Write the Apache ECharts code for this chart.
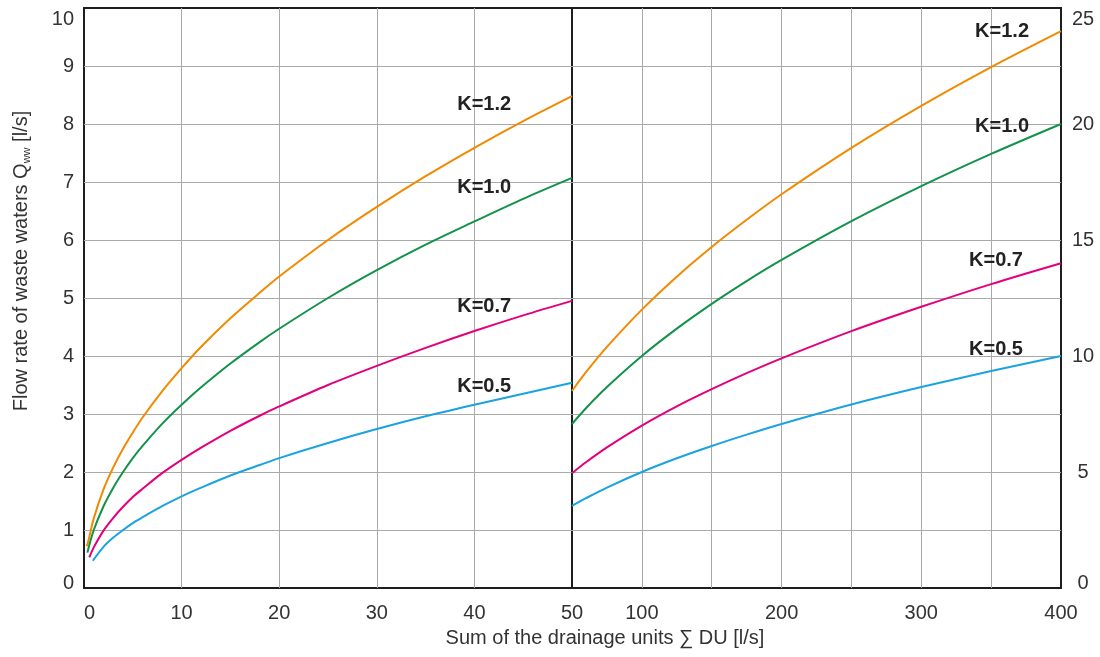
<!DOCTYPE html>
<html><head><meta charset="utf-8">
<script src="https://cdn.jsdelivr.net/npm/echarts@6/dist/echarts.min.js"></script>
<style>html,body{margin:0;padding:0;background:#fff}#c{width:1100px;height:657px}</style>
</head><body><div id="c"></div>
<script>
// ---------- data ----------
const kLabels = ['K=1.2', 'K=1.0', 'K=0.7', 'K=0.5'];

// left panel (DU 0..50, Q 0..10)
const leftDU_K12 = [0.3, 0.5, 1, 2, 3, 4, 5, 6, 8, 10, 12, 15, 18, 20, 25, 30, 35, 40, 45, 50];
const leftQ_K12  = [0.72, 0.85, 1.2, 1.7, 2.08, 2.4, 2.68, 2.94, 3.39, 3.79, 4.16, 4.65, 5.09, 5.37, 6.0, 6.57, 7.1, 7.59, 8.05, 8.48];
const leftDU_K10 = [0.35, 0.5, 1, 2, 3, 4, 5, 6, 8, 10, 12, 15, 18, 20, 25, 30, 35, 40, 45, 50];
const leftQ_K10  = [0.61, 0.71, 1.0, 1.41, 1.73, 2.0, 2.24, 2.45, 2.83, 3.16, 3.46, 3.87, 4.24, 4.47, 5.0, 5.48, 5.92, 6.32, 6.71, 7.07];
const leftDU_K07 = [0.55, 1, 2, 3, 4, 5, 6, 8, 10, 12, 15, 18, 20, 25, 30, 35, 40, 45, 50];
const leftQ_K07  = [0.53, 0.7, 0.99, 1.21, 1.4, 1.57, 1.71, 1.98, 2.21, 2.42, 2.71, 2.97, 3.13, 3.5, 3.83, 4.14, 4.43, 4.7, 4.95];
const leftDU_K05 = [0.9, 2, 3, 4, 5, 6, 8, 10, 12, 15, 18, 20, 25, 30, 35, 40, 45, 50];
const leftQ_K05  = [0.47, 0.71, 0.87, 1.0, 1.12, 1.22, 1.41, 1.58, 1.73, 1.94, 2.12, 2.24, 2.5, 2.74, 2.96, 3.16, 3.35, 3.54];

// right panel (DU 50..400, Q 0..25)
const rightDU = [50, 60, 75, 100, 125, 150, 175, 200, 250, 300, 350, 400];
const rightQ_K12 = [8.49, 9.3, 10.39, 12.0, 13.42, 14.7, 15.87, 16.97, 18.97, 20.78, 22.45, 24.0];
const rightQ_K10 = [7.07, 7.75, 8.66, 10.0, 11.18, 12.25, 13.23, 14.14, 15.81, 17.32, 18.71, 20.0];
const rightQ_K07 = [4.95, 5.42, 6.06, 7.0, 7.83, 8.57, 9.26, 9.9, 11.07, 12.12, 13.1, 14.0];
const rightQ_K05 = [3.54, 3.87, 4.33, 5.0, 5.59, 6.12, 6.61, 7.07, 7.91, 8.66, 9.35, 10.0];

// tick labels
const leftXTicks = [0, 10, 20, 30, 40, 50];
const rightXTicks = [100, 200, 300, 400];
const leftYTicks = [0, 1, 2, 3, 4, 5, 6, 7, 8, 9, 10];
const rightYTicks = [0, 5, 10, 15, 20, 25];

const xTitle = 'Sum of the drainage units \u2211 DU [l/s]';

// ---------- presentation ----------
const colors = ['#f18a00', '#12924a', '#e2007d', '#1aa3e0'];
// label anchors in data coordinates (left panel, right panel)
const leftLabelAt  = [[41, 8.33], [41, 6.91], [41, 4.86], [41, 3.48]];
const rightLabelAt = [[357.8, 24.0], [357.8, 19.9], [353.5, 14.1], [353.5, 10.3]];

const FONT = '"Liberation Sans", Arial, Helvetica, sans-serif';
const zip = (a, b) => a.map((v, i) => [v, b[i]]);

const leftSets = [zip(leftDU_K12, leftQ_K12), zip(leftDU_K10, leftQ_K10), zip(leftDU_K07, leftQ_K07), zip(leftDU_K05, leftQ_K05)];
const rightSets = [zip(rightDU, rightQ_K12), zip(rightDU, rightQ_K10), zip(rightDU, rightQ_K07), zip(rightDU, rightQ_K05)];

function mkSeries(data, i, gi, at) {
  return {
    type: 'line', xAxisIndex: gi, yAxisIndex: gi, data: data,
    showSymbol: false, symbol: 'none', smooth: 0.3,
    lineStyle: { color: colors[i], width: 2 }, itemStyle: { color: colors[i] },
    z: 5, silent: true,
    markPoint: {
      symbol: 'circle', symbolSize: 1, silent: true,
      itemStyle: { color: 'rgba(0,0,0,0)' },
      label: { show: true, position: 'inside', formatter: kLabels[i], fontFamily: FONT, fontSize: 20, fontWeight: 'bold', color: '#222' },
      data: [{ coord: at }]
    }
  };
}

const splitLine = { show: true, showMinLine: false, showMaxLine: false, lineStyle: { color: '#a9a9a9', width: 1 } };
const lbl = { fontFamily: FONT, fontSize: 20, color: '#333' };
const edgeRich = {
  lo: { fontFamily: FONT, fontSize: 20, color: '#333', padding: [0, 0, 10, 0] },
  hi: { fontFamily: FONT, fontSize: 20, color: '#333', padding: [22, 0, 0, 0] }
};
function yFmt(ticks, lo, hi) {
  return v => {
    if (!ticks.includes(v)) return '';
    if (v === lo) return '{lo|' + v + '}';
    if (v === hi) return '{hi|' + v + '}';
    return String(v);
  };
}

const option = {
  animation: false,
  backgroundColor: '#fff',
  grid: [
    { left: 84, right: 528, top: 8, bottom: 69, show: true, borderColor: '#1e1e1e', borderWidth: 2, backgroundColor: 'transparent', containLabel: false },
    { left: 572, right: 39, top: 8, bottom: 69, show: true, borderColor: '#1e1e1e', borderWidth: 2, backgroundColor: 'transparent', containLabel: false }
  ],
  xAxis: [
    { type: 'value', gridIndex: 0, min: 0, max: 50, interval: 10,
      axisLine: { show: false }, axisTick: { show: false }, splitLine: splitLine,
      axisLabel: Object.assign({}, lbl, { margin: 15, alignMinLabel: 'left',
        formatter: v => leftXTicks.includes(v) ? String(v) : '' }) },
    { type: 'value', gridIndex: 1, min: 50, max: 400, interval: 50,
      axisLine: { show: false }, axisTick: { show: false }, splitLine: splitLine,
      axisLabel: Object.assign({}, lbl, { margin: 15,
        formatter: v => rightXTicks.includes(v) ? String(v) : '' }) }
  ],
  yAxis: [
    { type: 'value', gridIndex: 0, position: 'left', min: 0, max: 10, interval: 1,
      axisLine: { show: false }, axisTick: { show: false }, splitLine: splitLine,
      axisLabel: Object.assign({}, lbl, { margin: 10, rich: edgeRich, formatter: yFmt(leftYTicks, 0, 10) }) },
    { type: 'value', gridIndex: 1, position: 'right', min: 0, max: 25, interval: 2.5,
      axisLine: { show: false }, axisTick: { show: false }, splitLine: splitLine,
      axisLabel: Object.assign({}, lbl, { margin: 22, align: 'center', rich: edgeRich, formatter: yFmt(rightYTicks, 0, 25) }) }
  ],
  graphic: [
    { type: 'text', x: 605, y: 638, z: 10, silent: true,
      style: { text: xTitle, fontFamily: FONT, fontSize: 20, fill: '#333', align: 'center', verticalAlign: 'middle' } },
    { type: 'text', x: 21, y: 261, rotation: Math.PI / 2, z: 10, silent: true,
      style: { text: '{m|Flow rate of waste waters Q}{sub|ww}{m| [l/s]}', fontFamily: FONT, fontSize: 20, fill: '#333',
        align: 'center', verticalAlign: 'middle',
        rich: {
          m: { fontFamily: FONT, fontSize: 20, fill: '#333', lineHeight: 22 },
          sub: { fontFamily: FONT, fontSize: 11, fill: '#333', lineHeight: 4, verticalAlign: 'bottom' }
        } } }
  ],
  series: [].concat(
    leftSets.map((d, i) => mkSeries(d, i, 0, leftLabelAt[i])),
    rightSets.map((d, i) => mkSeries(d, i, 1, rightLabelAt[i]))
  )
};

const chart = echarts.init(document.getElementById('c'), null, { renderer: 'canvas' });
chart.setOption(option);
</script>
</body></html>
